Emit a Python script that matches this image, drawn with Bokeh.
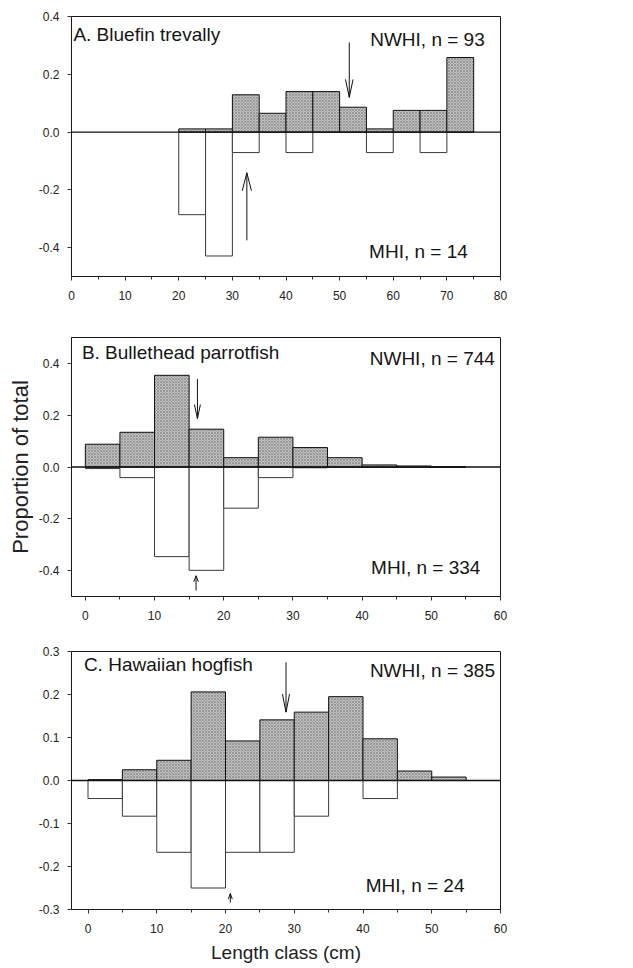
from bokeh.plotting import figure
from bokeh.layouts import column
from bokeh.models import FixedTicker, PrintfTickFormatter, Label, Span
from bokeh.embed import file_html
from bokeh.resources import INLINE

FONT = "Liberation Sans"

# ---------------- data ----------------
# A. Bluefin trevally
a_bins = [20, 25, 30, 35, 40, 45, 50, 55, 60, 65, 70]
a_nwhi = [0.011, 0.011, 0.129, 0.065, 0.140, 0.140, 0.086, 0.011, 0.075, 0.075, 0.258]
a_mhi = [0.286, 0.429, 0.071, 0.0, 0.071, 0.0, 0.0, 0.071, 0.0, 0.071, 0.0]
a_arrow_x = [51.8, 32.7]
a_arrow_tail = [0.31, -0.375]
a_arrow_tip = [0.12, -0.141]

# B. Bullethead parrotfish
b_bins = [0, 5, 10, 15, 20, 25, 30, 35, 40, 45, 50]
b_nwhi = [0.088, 0.134, 0.354, 0.146, 0.036, 0.115, 0.075, 0.036, 0.008, 0.004, 0.001]
b_mhi = [0.006, 0.041, 0.346, 0.399, 0.159, 0.041, 0.003, 0.0, 0.0, 0.0, 0.0]
b_arrow_x = [16.2, 16.0]
b_arrow_tail = [0.34, -0.477]
b_arrow_tip = [0.187, -0.42]

# C. Hawaiian hogfish
c_bins = [0, 5, 10, 15, 20, 25, 30, 35, 40, 45, 50]
c_nwhi = [0.002, 0.025, 0.047, 0.206, 0.092, 0.141, 0.159, 0.195, 0.097, 0.022, 0.008]
c_mhi = [0.042, 0.083, 0.167, 0.250, 0.167, 0.167, 0.083, 0.0, 0.042, 0.0, 0.0]
c_arrow_x = [28.8, 20.7]
c_arrow_tail = [0.275, -0.284]
c_arrow_tip = [0.159, -0.263]

bin_width = 5

a_title, a_nw, a_mh = "A. Bluefin trevally", "NWHI, n = 93", "MHI, n = 14"
b_title, b_nw, b_mh = "B. Bullethead parrotfish", "NWHI, n = 744", "MHI, n = 334"
c_title, c_nw, c_mh = "C. Hawaiian hogfish", "NWHI, n = 385", "MHI, n = 24"

a_xticks = [0, 10, 20, 30, 40, 50, 60, 70, 80]
bc_xticks = [0, 10, 20, 30, 40, 50, 60]
ab_yticks = [-0.4, -0.2, 0.0, 0.2, 0.4]
c_yticks = [-0.3, -0.2, -0.1, 0.0, 0.1, 0.2, 0.3]

W = 562
LEFT = 71
LABEL_LIFT = 9  # px


def make_panel(bins, nwhi, mhi, xr, yr, xticks, yticks, texts, arrows, heads,
               frame_w, frame_h, b_top, b_bottom, ylabel=None, xlabel=None):
    b_right = W - LEFT - frame_w
    height = b_top + frame_h + b_bottom
    p = figure(width=W, height=height, x_range=xr, y_range=yr,
               output_backend="svg", toolbar_location=None,
               min_border_left=LEFT, min_border_right=b_right,
               min_border_top=b_top, min_border_bottom=b_bottom)
    p.xgrid.visible = False
    p.ygrid.visible = False
    p.outline_line_color = "#1a1a1a"
    p.outline_line_width = 1
    p.background_fill_color = "white"
    p.border_fill_color = "white"

    dx = (xr[1] - xr[0]) / frame_w
    dy = (yr[1] - yr[0]) / frame_h

    left = list(bins)
    right = [b + bin_width for b in bins]
    neg = [-m for m in mhi]
    zeros = [0.0] * len(bins)

    # MHI (white, downward)
    p.quad(left=left, right=right, top=zeros, bottom=neg,
           fill_color="white", line_color="#3a3a3a", line_width=1)
    # NWHI (stippled, upward)
    p.quad(left=left, right=right, top=nwhi, bottom=zeros,
           fill_color="#c2c2c2", line_color="#111111", line_width=1,
           hatch_pattern="diagonal_cross", hatch_color="#7c7c7c",
           hatch_scale=3, hatch_weight=0.6)

    p.add_layout(Span(location=0, dimension="width", line_color="#111111",
                      line_width=1.3))

    # mean arrows
    ax, atail, atip = arrows
    for x, t0, t1, (hl, hw) in zip(ax, atail, atip, heads):
        sgn = 1 if t0 > t1 else -1
        p.segment(x0=[x], y0=[t0], x1=[x], y1=[t1], line_color="#111111", line_width=1)
        p.segment(x0=[x - hw * dx, x + hw * dx], y0=[t1 + sgn * hl * dy, t1 + sgn * hl * dy],
                  x1=[x, x], y1=[t1, t1], line_color="#111111", line_width=1)

    for (tx, ty, txt) in texts:
        p.add_layout(Label(x=tx, y=ty + LABEL_LIFT * dy, text=txt, text_font=FONT,
                           text_font_size="19px", text_baseline="alphabetic",
                           text_align="left", text_color="#151515"))

    p.xaxis.ticker = FixedTicker(ticks=xticks,
                                 minor_ticks=[t + 5 for t in xticks[:-1]])
    p.yaxis.ticker = FixedTicker(ticks=yticks)
    p.yaxis.formatter = PrintfTickFormatter(format="%.1f")
    for ax_ in (p.xaxis, p.yaxis):
        ax_.major_tick_out = 4
        ax_.major_tick_in = 0
        ax_.minor_tick_out = 3
        ax_.minor_tick_in = 0
        ax_.axis_line_color = "#1a1a1a"
        ax_.major_tick_line_color = "#333333"
        ax_.minor_tick_line_color = "#333333"
        ax_.major_label_text_font = FONT
        ax_.major_label_text_font_size = "12px"
        ax_.major_label_text_color = "#222222"
    p.yaxis.minor_tick_line_color = None
    p.xaxis.major_label_standoff = 10
    p.yaxis.major_label_standoff = 8
    if ylabel:
        p.yaxis.axis_label = ylabel
        p.yaxis.axis_label_text_font = FONT
        p.yaxis.axis_label_text_font_size = "22px"
        p.yaxis.axis_label_text_font_style = "normal"
        p.yaxis.axis_label_text_color = "#222222"
        p.yaxis.axis_label_standoff = 3
    if xlabel:
        p.xaxis.axis_label = xlabel
        p.xaxis.axis_label_text_font = FONT
        p.xaxis.axis_label_text_font_size = "19px"
        p.xaxis.axis_label_text_font_style = "normal"
        p.xaxis.axis_label_text_color = "#222222"
        p.xaxis.axis_label_standoff = 6
    return p


pA = make_panel(a_bins, a_nwhi, a_mhi, (0, 80), (-0.5, 0.4), a_xticks, ab_yticks,
                [(0.35, 0.306, a_title), (55.7, 0.289, a_nw), (55.5, -0.445, a_mh)],
                (a_arrow_x, a_arrow_tail, a_arrow_tip), [(18, 3.8), (18, 4.6)],
                frame_w=429, frame_h=260, b_top=16, b_bottom=41)

pB = make_panel(b_bins, b_nwhi, b_mhi, (-2, 60), (-0.5, 0.5), bc_xticks, ab_yticks,
                [(-0.5, 0.407, b_title), (41.1, 0.384, b_nw), (41.3, -0.423, b_mh)],
                (b_arrow_x, b_arrow_tail, b_arrow_tip), [(14, 3.0), (6, 2.3)],
                frame_w=431, frame_h=259, b_top=20, b_bottom=41,
                ylabel="Proportion of total")

pC = make_panel(c_bins, c_nwhi, c_mhi, (-2.4, 60), (-0.3, 0.3), bc_xticks, c_yticks,
                [(-0.6, 0.249, c_title), (41.0, 0.235, c_nw), (40.4, -0.265, c_mh)],
                (c_arrow_x, c_arrow_tail, c_arrow_tip), [(18, 3.6), (5.5, 2.0)],
                frame_w=437, frame_h=258, b_top=14, b_bottom=56,
                xlabel="Length class (cm)")

layout = column(pA, pB, pC, spacing=0)
open("out.html", "w").write(file_html(layout, INLINE))
